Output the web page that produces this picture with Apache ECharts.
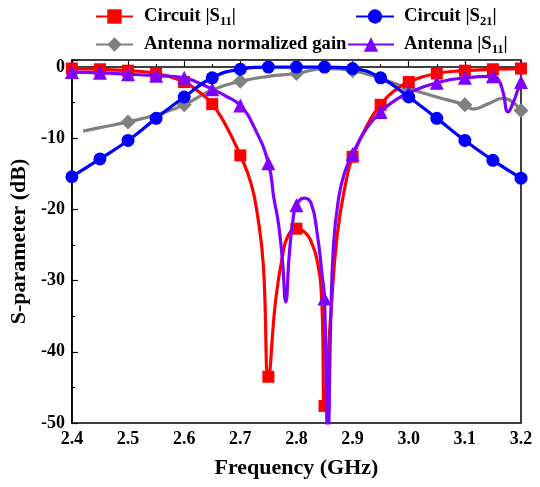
<!DOCTYPE html>
<html>
<head>
<meta charset="utf-8">
<script src="https://cdn.jsdelivr.net/npm/echarts@6/dist/echarts.min.js"></script>
<style>html,body{margin:0;padding:0;background:#fff}#c{width:540px;height:487px}</style>
</head>
<body>
<div id="c"></div>
<script>
// ---- data ----
const freq05 = [2.40,2.45,2.50,2.55,2.60,2.65,2.70,2.75,2.80,2.85,2.90,2.95,3.00,3.05,3.10,3.15,3.20];
const freq10 = [2.5,2.6,2.7,2.8,2.9,3.0,3.1,3.2];

const circuitS11 = [-0.2,-0.3,-0.5,-0.9,-2.1,-5.2,-12.4,-43.5,-22.7,-47.6,-12.6,-5.3,-2.1,-0.9,-0.5,-0.3,-0.2];
const circuitS11Extra = [[2.625,-3.4],[2.675,-8.3],[2.719,-16.3],[2.731,-21],[2.741,-27.8],[2.763,-32.7],[2.775,-26.6],[2.785,-23.7],[2.815,-23.2],[2.826,-24.5],[2.837,-27.2],[2.845,-32.7],[2.861,-35],[2.873,-23.4],[2.89,-15.4],[2.925,-8.3],[2.975,-3.3]];

const circuitS21 = [-15.4,-12.9,-10.3,-7.2,-4.2,-1.5,-0.3,0,0,0,-0.2,-1.5,-4.2,-7.2,-10.3,-13.1,-15.6];

const antennaGain = [-7.7,-5.3,-2.0,-0.9,-0.5,-3.0,-5.3,-6.1];
const antennaGainExtra = [[2.42,-9.0],[2.45,-8.5],[2.55,-6.7],[2.65,-3.2],[2.75,-1.3],[2.85,-0.2],[2.95,-1.6],[3.05,-4.2],[3.115,-5.9],[3.14,-5.2],[3.168,-4.4]];

const antennaS11 = [-0.7,-0.8,-1.0,-1.2,-1.5,-3.1,-5.4,-13.5,-19.4,-32.5,-12.2,-6.3,-3.6,-2.2,-1.5,-1.3,-2.1];
const antennaS11Extra = [[2.625,-2.2],[2.675,-4.1],[2.725,-8.5],[2.76,-18.5],[2.768,-22],[2.775,-27.1],[2.781,-33],[2.787,-26.6],[2.793,-22],[2.814,-18.4],[2.826,-19.1],[2.837,-23.4],[2.846,-29.4],[2.856,-53],[2.861,-36],[2.866,-25],[2.875,-18.5],[2.885,-15],[2.925,-8.6],[2.975,-4.7],[3.16,-1.8],[3.168,-3.5],[3.177,-6.3],[3.186,-5],[3.193,-3.5]];

const xTicks = ['2.4','2.5','2.6','2.7','2.8','2.9','3.0','3.1','3.2'];
const names = ['Circuit |S11|','Circuit |S21|','Antenna normalized gain','Antenna |S11|'];
const legendRich = ['{a|Circuit |S}{s|11}{a||}','{a|Circuit |S}{s|21}{a||}','{a|Antenna normalized gain}','{a|Antenna |S}{s|11}{a||}'];

// ---- build ----
function build(fs, vs, extra) {
  const pts = fs.map((f, i) => ({ value: [f, vs[i]] }));
  extra.forEach(p => pts.push({ value: p, symbol: 'none' }));
  pts.sort((a, b) => a.value[0] - b.value[0]);
  return pts;
}
const FONT = 'Liberation Serif';
const rich = {
  a: { fontFamily: FONT, fontWeight: 'bold', fontSize: 18.7, color: '#000' },
  s: { fontFamily: FONT, fontWeight: 'bold', fontSize: 12.5, color: '#000', padding: [10, 0, 0, 0] }
};
function mkLegend(i, left, top, w, pad) {
  return {
    data: [names[i]], left: left, top: top, itemWidth: w, itemHeight: 18, padding: 0,
    formatter: () => legendRich[i],
    textStyle: { rich: rich, padding: [0, 0, 0, pad] }
  };
}
const chart = echarts.init(document.getElementById('c'), null, { renderer: 'canvas' });
const lineBase = { type: 'line', smooth: 0.5, showSymbol: true, clip: true };
chart.setOption({
  animation: false,
  backgroundColor: '#fff',
  legend: [mkLegend(0, 95, 7, 37, 6), mkLegend(1, 355, 7, 38, 5), mkLegend(2, 95, 35, 37, 6), mkLegend(3, 347, 35, 46, 5)],
  grid: { left: 70, right: 19, top: 60, bottom: 64, show: true, borderColor: '#000', borderWidth: 1.5, backgroundColor: 'transparent' },
  xAxis: {
    type: 'value', min: 2.4, max: 3.2, interval: 0.1,
    axisLine: { lineStyle: { color: '#000', width: 1.5 } },
    axisTick: { inside: true, length: 6, lineStyle: { color: '#000', width: 1.2 } },
    minorTick: { show: true, splitNumber: 2, length: 3, lineStyle: { color: '#000', width: 1.2 } },
    splitLine: { show: false },
    axisLabel: { fontFamily: FONT, fontWeight: 'bold', fontSize: 18, color: '#000', margin: 7,
      formatter: v => { const i = Math.round((v - 2.4) * 10); return xTicks[i] || ''; } },
    name: 'Frequency (GHz)', nameLocation: 'middle', nameGap: 34,
    nameTextStyle: { fontFamily: FONT, fontWeight: 'bold', fontSize: 22, color: '#000' }
  },
  yAxis: {
    type: 'value', min: -50, max: 1, interval: 10,
    axisLine: { show: true, lineStyle: { color: '#000', width: 1.5 } },
    axisTick: { show: true, inside: true, length: 6, lineStyle: { color: '#000', width: 1.2 } },
    minorTick: { show: true, splitNumber: 2, length: 3, lineStyle: { color: '#000', width: 1.2 } },
    splitLine: { show: false },
    axisLabel: { fontFamily: FONT, fontWeight: 'bold', fontSize: 18, color: '#000', margin: 7,
      formatter: v => (v > 0 ? '' : String(v)) },
    name: 'S-parameter (dB)', nameLocation: 'middle', nameGap: 39,
    nameTextStyle: { fontFamily: FONT, fontWeight: 'bold', fontSize: 22, color: '#000' }
  },
  series: [
    Object.assign({}, lineBase, { name: names[2], z: 2, symbol: 'diamond', symbolSize: 15,
      itemStyle: { color: '#808080' }, lineStyle: { color: '#808080', width: 3.2 },
      data: build(freq10, antennaGain, antennaGainExtra) }),
    Object.assign({}, lineBase, { name: names[0], z: 3, symbol: 'rect', symbolSize: 12,
      itemStyle: { color: '#ff0000' }, lineStyle: { color: '#ff0000', width: 3.2 },
      data: build(freq05, circuitS11, circuitS11Extra) }),
    Object.assign({}, lineBase, { name: names[3], z: 4, symbol: 'triangle', symbolSize: 14,
      itemStyle: { color: '#8000ff' }, lineStyle: { color: '#8000ff', width: 3.2 },
      data: build(freq05, antennaS11, antennaS11Extra) }),
    Object.assign({}, lineBase, { name: names[1], z: 5, symbol: 'circle', symbolSize: 13,
      itemStyle: { color: '#0000ff' }, lineStyle: { color: '#0000ff', width: 3.2 },
      data: build(freq05, circuitS21, []) })
  ]
});
</script>
</body>
</html>
